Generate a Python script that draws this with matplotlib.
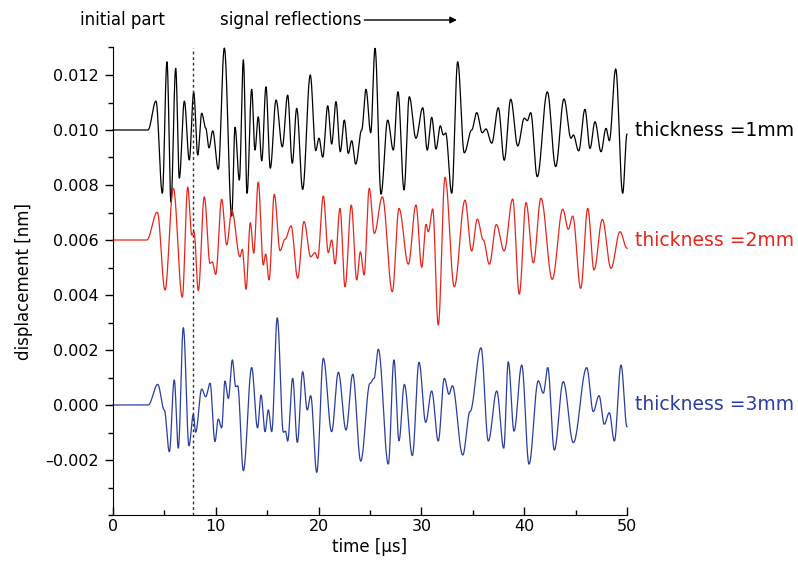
import numpy as np
import matplotlib
matplotlib.use("Agg")
import matplotlib.pyplot as plt

# Turning points (time in µs, displacement in nm) of the three recorded traces
t_1mm = [0.00, 3.40, 4.18, 4.80, 5.25, 5.64, 6.10, 6.45, 6.94, 7.42, 7.85, 8.24, 8.63, 9.02, 9.34,
         9.70, 10.24, 10.83, 11.55, 11.87, 12.29, 12.68, 13.04, 13.49, 13.81, 14.13, 14.47, 14.88,
         15.30, 15.86, 16.47, 16.99, 17.44, 17.87, 18.45, 19.19, 19.72, 20.04, 20.40, 20.89, 21.27,
         21.69, 22.11, 22.50, 22.89, 23.22, 23.61, 24.19, 24.61, 25.07, 25.49, 26.07, 26.72, 27.27,
         27.72, 28.31, 28.82, 29.47, 30.13, 30.57, 31.00, 31.42, 31.84, 32.13, 32.36, 32.95, 33.53,
         34.17, 34.89, 35.38, 35.92, 36.28, 36.84, 37.48, 38.06, 38.69, 39.37, 40.01, 40.30, 40.63,
         41.27, 42.25, 43.06, 43.87, 44.55, 44.78, 45.30, 45.91, 46.40, 46.89, 47.47, 47.96, 48.28,
         48.90, 49.58, 50.00]
d_1mm = [0.01000, 0.01000, 0.01105, 0.00770, 0.01248, 0.00738, 0.01224, 0.00825, 0.01105, 0.00891,
         0.01137, 0.00909, 0.01061, 0.01007, 0.00935, 0.00997, 0.00857, 0.01298, 0.00687, 0.01010,
         0.00818, 0.01255, 0.00770, 0.01148, 0.00927, 0.01048, 0.00888, 0.01157, 0.00861, 0.01109,
         0.00939, 0.01127, 0.00879, 0.01079, 0.00784, 0.01200, 0.00925, 0.00970, 0.00901, 0.01088,
         0.00949, 0.01103, 0.00921, 0.01036, 0.00915, 0.00961, 0.00876, 0.01000, 0.01148, 0.00990,
         0.01297, 0.00767, 0.01036, 0.00927, 0.01139, 0.00782, 0.01121, 0.00970, 0.01081, 0.00927,
         0.01046, 0.00931, 0.01015, 0.00982, 0.00989, 0.00770, 0.01248, 0.00917, 0.01000, 0.01063,
         0.00990, 0.01004, 0.00952, 0.01081, 0.00890, 0.01112, 0.00942, 0.01043, 0.01034, 0.01063,
         0.00830, 0.01139, 0.00867, 0.01113, 0.00970, 0.00982, 0.00924, 0.01075, 0.00933, 0.01030,
         0.00921, 0.01006, 0.00961, 0.01222, 0.00770, 0.00985]

t_2mm = [0.00, 3.28, 4.31, 5.06, 5.87, 6.74, 7.27, 7.66, 7.88, 8.30, 8.88, 9.44, 9.66, 9.99, 10.57,
         11.06, 11.55, 12.35, 12.58, 12.94, 13.36, 13.69, 14.13, 14.62, 14.85, 15.18, 15.69, 16.25,
         16.73, 17.32, 17.97, 18.58, 19.23, 19.65, 19.91, 20.46, 20.94, 21.27, 21.60, 22.08, 22.57,
         23.18, 23.71, 24.06, 24.42, 24.93, 25.42, 26.20, 27.17, 27.82, 28.73, 29.47, 30.03, 30.45,
         30.67, 31.10, 31.64, 32.30, 33.20, 34.24, 34.89, 35.44, 36.02, 36.61, 37.29, 38.05, 38.88,
         39.52, 40.18, 40.89, 41.63, 42.73, 43.75, 44.29, 44.72, 45.50, 46.18, 46.79, 47.60, 48.44,
         49.32, 50.00]
d_2mm = [0.00600, 0.00600, 0.00701, 0.00418, 0.00788, 0.00392, 0.00792, 0.00618, 0.00630, 0.00416,
         0.00757, 0.00515, 0.00520, 0.00475, 0.00748, 0.00582, 0.00709, 0.00539, 0.00566, 0.00421,
         0.00663, 0.00552, 0.00810, 0.00509, 0.00549, 0.00455, 0.00766, 0.00561, 0.00603, 0.00651,
         0.00461, 0.00667, 0.00539, 0.00554, 0.00533, 0.00760, 0.00554, 0.00600, 0.00513, 0.00715,
         0.00430, 0.00727, 0.00455, 0.00557, 0.00473, 0.00788, 0.00624, 0.00757, 0.00412, 0.00715,
         0.00512, 0.00727, 0.00501, 0.00657, 0.00630, 0.00713, 0.00291, 0.00828, 0.00430, 0.00745,
         0.00560, 0.00676, 0.00600, 0.00512, 0.00656, 0.00560, 0.00749, 0.00403, 0.00736, 0.00517,
         0.00752, 0.00457, 0.00712, 0.00639, 0.00687, 0.00424, 0.00715, 0.00491, 0.00675, 0.00497,
         0.00630, 0.00570]

t_3mm = [0.00, 3.43, 4.35, 4.99, 5.48, 5.96, 6.35, 6.84, 7.39, 7.81, 8.04, 8.63, 9.02, 9.44, 9.92,
         10.24, 10.57, 10.89, 11.22, 11.61, 11.94, 12.13, 12.68, 13.49, 14.06, 14.40, 14.79, 15.11,
         15.44, 15.98, 16.57, 16.78, 16.99, 17.48, 17.93, 18.45, 18.90, 19.23, 19.82, 20.46, 21.27,
         21.92, 22.67, 23.32, 24.10, 25.00, 25.39, 25.81, 26.78, 27.33, 27.82, 28.34, 29.12, 29.77,
         30.42, 31.00, 31.64, 32.23, 32.68, 33.01, 34.02, 34.73, 35.80, 36.51, 37.33, 38.01, 38.45,
         39.01, 39.76, 40.47, 41.37, 41.86, 42.29, 42.93, 43.80, 44.78, 46.08, 46.72, 47.28, 47.79,
         48.28, 48.77, 49.42, 50.00]
d_3mm = [0.00000, 0.00000, 0.00075, -0.00018, -0.00170, 0.00091, -0.00157, 0.00281, -0.00148,
         -0.00034, -0.00099, 0.00058, 0.00030, 0.00079, -0.00133, -0.00051, -0.00083, 0.00087,
         0.00024, 0.00164, 0.00067, 0.00070, -0.00239, 0.00136, -0.00083, 0.00036, -0.00097,
         -0.00018, -0.00097, 0.00317, -0.00099, -0.00095, -0.00131, 0.00097, -0.00136, 0.00121,
         -0.00018, 0.00034, -0.00245, 0.00170, -0.00097, 0.00119, -0.00091, 0.00112, -0.00204,
         0.00079, 0.00097, 0.00203, -0.00215, 0.00164, -0.00130, 0.00075, -0.00184, 0.00155,
         -0.00063, 0.00051, -0.00131, 0.00097, 0.00039, 0.00070, -0.00182, -0.00024, 0.00208,
         -0.00131, 0.00051, -0.00157, 0.00157, -0.00095, 0.00145, -0.00215, 0.00088, 0.00043,
         0.00136, -0.00164, 0.00085, -0.00137, 0.00136, -0.00024, 0.00034, -0.00070, -0.00028,
         -0.00131, 0.00145, -0.00079]

series_labels = ["thickness =1mm", "thickness =2mm", "thickness =3mm"]
series_colors = ["#000000", "#e8251c", "#2a3da0"]
y_ticks = [-0.002, 0.000, 0.002, 0.004, 0.006, 0.008, 0.010, 0.012]
x_ticks = [0, 10, 20, 30, 40, 50]
split_time = 7.8


def half_waves(t, d, n=24):
    """Join consecutive turning points with smooth half-cosine segments."""
    t = np.asarray(t, float)
    d = np.asarray(d, float)
    s = np.linspace(0.0, 1.0, n, endpoint=False)
    w = (1 - np.cos(np.pi * s)) / 2
    xs, ys = [], []
    for i in range(len(t) - 1):
        xs.append(t[i] + (t[i + 1] - t[i]) * s)
        ys.append(d[i] + (d[i + 1] - d[i]) * w)
    xs.append([t[-1]])
    ys.append([d[-1]])
    return np.concatenate(xs), np.concatenate(ys)


plt.rcParams["font.family"] = ["DejaVu Sans"]
plt.rcParams["axes.unicode_minus"] = True

fig = plt.figure(figsize=(7.98, 5.69), dpi=100)
ax = fig.add_axes([113 / 798, 1 - 515 / 569, (627 - 113) / 798, (515 - 47.5) / 569])

for (t, d), col in zip([(t_1mm, d_1mm), (t_2mm, d_2mm), (t_3mm, d_3mm)], series_colors):
    xx, yy = half_waves(t, d)
    ax.plot(xx, yy, color=col, lw=0.9, clip_on=False)

ax.axvline(split_time, color="#333333", lw=1.0, ls=(0, (2, 2)))

ax.set_xlim(0, 50)
ax.set_ylim(-0.004, 0.013)
ax.set_xticks(x_ticks)
ax.set_xticks(np.arange(0, 51, 5), minor=True)
ax.set_yticks(y_ticks)
ax.set_yticks(np.arange(-0.004, 0.0131, 0.001), minor=True)
ax.set_yticklabels(["\u2013" + f"{abs(v):.3f}" if v < 0 else f"{v:.3f}" for v in y_ticks])
ax.tick_params(axis="y", which="major", direction="out", length=6, width=1, labelsize=11.5, pad=4)
ax.tick_params(axis="y", which="minor", direction="out", length=3.5, width=1)
ax.tick_params(axis="x", which="major", direction="in", length=6, width=1, labelsize=11.5, pad=3)
ax.tick_params(axis="x", which="minor", direction="in", length=3.5, width=1)
for side in ("top", "right"):
    ax.spines[side].set_visible(False)

ax.set_xlabel("time [\u00b5s]", fontsize=12, labelpad=3)
ax.set_ylabel("displacement [nm]", fontsize=12, labelpad=9)

# trace labels at the right-hand end of each baseline
for lbl, col, base in zip(series_labels, series_colors, [d_1mm[0], d_2mm[0], d_3mm[0]]):
    ax.text(1.016, base, lbl, color=col, fontsize=13.5, va="center", ha="left",
            transform=ax.get_yaxis_transform())

# headings above the plot
fig.text(80 / 798, 1 - 20 / 569, "initial part", fontsize=12, ha="left", va="center")
ax.annotate("signal reflections", xy=(457 / 798, 1 - 20 / 569), xycoords="figure fraction",
            xytext=(220 / 798, 1 - 20 / 569), textcoords="figure fraction",
            fontsize=12, ha="left", va="center",
            arrowprops=dict(arrowstyle="-|>", color="black", lw=1.0,
                            shrinkA=0, shrinkB=0, mutation_scale=10))

fig.savefig("out.png", dpi=100)
